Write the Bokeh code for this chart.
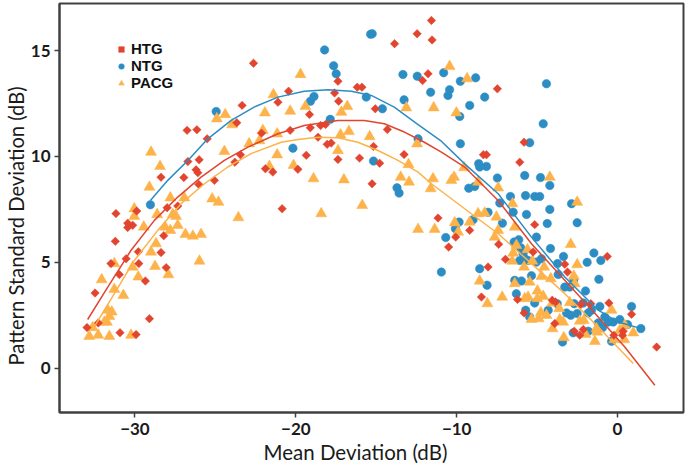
import math
from bokeh.plotting import figure
from bokeh.models import Range1d, FixedTicker, Legend, LegendItem, Title
from bokeh.embed import file_html
from bokeh.resources import INLINE

# ---------------- data ----------------
htg_md = [-22.63, -21.11, -23.34, -23.67, -26.76, -26.15, -25.51, -22.13, -23.44, -26.71,
          -26.01, -23.79, -21.89, -21.43, -26.20, -26.09, -28.38, -26.96, -26.03, -25.06,
          -28.00, -27.34, -29.89, -31.18, -30.45, -30.14, -30.45, -28.21, -31.22, -29.79,
          -28.38, -31.49, -30.55, -29.76, -28.06, -30.97, -29.35, -32.48, -29.10, -32.28,
          -32.98, -30.93, -29.93, -20.85, -11.57, -12.46, -11.53, -13.86, -11.78, -12.12,
          -17.38, -20.45, -16.18, -15.89, -17.59, -17.34, -15.06, -19.15, -19.10, -18.46,
          -18.15, -20.35, -14.31, -18.62, -18.05, -17.80, -15.17, -19.35, -17.38, -16.04,
          -13.27, -8.34, -8.15, -14.79, -19.87, -15.26, -11.16, -10.06, -9.19, -10.50,
          -8.05, -8.46, -7.47, -5.81, -6.08, -5.15, -7.39, -6.97, -5.25, -3.28,
          -0.64, -3.11, -6.22, -4.06, -3.86, -2.30, -1.66, -0.54, 0.87, -5.81,
          -3.90, -2.13, -2.69, -2.35, 0.35, -0.23, 0.31, 2.43]
htg_psd = [14.40, 12.56, 12.41, 11.59, 11.23, 11.26, 10.83, 11.10, 10.08, 9.76,
           9.84, 9.73, 9.42, 9.26, 9.37, 9.23, 9.02, 9.00, 8.68, 8.87,
           7.58, 7.66, 7.42, 7.30, 6.85, 6.75, 6.64, 6.26, 5.99, 5.50,
           5.46, 4.94, 5.17, 4.94, 4.75, 4.42, 4.12, 3.55, 2.34, 2.14,
           1.92, 1.68, 1.59, 7.53, 16.42, 15.79, 15.50, 15.32, 13.90, 13.58,
           13.55, 13.08, 13.27, 13.27, 13.00, 12.61, 12.25, 11.98, 11.35, 11.46,
           11.51, 11.23, 11.27, 10.91, 10.57, 10.63, 10.47, 10.05, 9.86, 9.92,
           10.09, 10.08, 10.08, 9.68, 9.39, 8.71, 7.09, 6.19, 6.51, 5.72,
           4.78, 3.36, 13.19, 10.67, 9.73, 6.78, 5.85, 5.14, 5.49, 4.91,
           5.28, 4.54, 3.25, 3.21, 3.13, 3.00, 3.05, 3.08, 2.55, 2.61,
           2.11, 1.83, 1.75, 1.56, 1.75, 1.56, 1.56, 1.00]

ntg_md = [-24.95, -29.04, -15.35, -15.25, -18.21, -17.65, -17.49, -13.34, -12.45, -10.81,
          -9.77, -8.82, -11.62, -10.44, -10.54, -8.26, -13.27, -18.87, -19.09, -15.62,
          -14.62, -9.19, -9.81, -17.86, -12.40, -20.18, -9.77, -15.17, -8.63, -8.57,
          -8.15, -13.71, -13.58, -9.25, -8.88, -9.85, -8.98, -8.05, -10.08, -10.68,
          -10.95, -8.57, -8.11, -4.42, -4.62, -5.46, -7.47, -5.77, -4.79, -4.21,
          -6.66, -5.72, -5.15, -4.84, -7.32, -2.86, -6.49, -5.66, -4.21, -7.16,
          -2.51, -4.37, -6.43, -6.14, -5.04, -6.02, -4.17, -5.87, -6.08, -5.77,
          -5.56, -5.04, -4.73, -3.73, -3.36, -1.89, -1.47, -1.04, -6.39, -5.97,
          -5.35, -3.69, -3.28, -2.97, -2.72, -1.99, -1.16, -6.29, -5.15, -3.75,
          -2.69, -2.13, -1.82, -1.62, -1.10, 0.87, -5.71, -5.46, -4.31, -3.17,
          -2.91, -2.51, -2.76, -1.82, -1.20, -0.93, -0.79, -0.58, -0.27, 0.14,
          0.62, 1.45, -0.37, -3.42]
ntg_psd = [12.12, 7.72, 15.77, 15.79, 15.03, 14.28, 13.90, 13.87, 13.79, 13.95,
           13.55, 13.71, 13.03, 13.15, 12.88, 12.80, 12.67, 12.83, 12.61, 12.80,
           12.25, 12.41, 11.89, 11.75, 10.83, 10.39, 10.60, 9.78, 9.66, 9.50,
           9.53, 8.52, 8.27, 8.50, 8.58, 6.90, 7.01, 7.36, 6.59, 6.17,
           4.54, 4.70, 3.92, 13.43, 11.54, 10.65, 8.98, 9.10, 9.00, 8.63,
           8.11, 8.15, 8.11, 8.11, 7.80, 7.77, 7.37, 7.26, 7.50, 6.85,
           6.87, 6.83, 5.96, 6.07, 6.19, 5.69, 5.65, 5.41, 5.09, 5.17,
           5.09, 5.01, 5.17, 4.94, 5.28, 5.00, 5.44, 5.09, 4.15, 4.12,
           4.37, 4.43, 3.83, 3.83, 4.18, 3.65, 4.20, 3.52, 3.08, 3.05,
           3.05, 3.08, 2.61, 2.74, 2.92, 2.92, 2.74, 2.42, 2.74, 2.61,
           2.50, 2.58, 1.67, 1.75, 2.14, 1.92, 2.42, 2.18, 2.18, 2.30,
           2.06, 1.87, 1.27, 1.24]

pacg_md = [-21.39, -24.39, -24.91, -23.96, -21.92, -22.05, -22.26, -22.90, -21.16, -24.44,
           -29.00, -28.44, -21.64, -29.10, -27.80, -26.93, -25.20, -24.81, -30.04, -30.04,
           -28.62, -27.65, -27.44, -23.57, -29.45, -28.13, -27.34, -27.80, -26.86, -26.40,
           -25.89, -28.69, -29.00, -25.99, -31.28, -30.14, -28.75, -27.92, -29.79, -32.07,
           -31.28, -30.72, -31.69, -31.44, -31.59, -31.90, -31.74, -32.63, -32.84, -32.28,
           -31.59, -30.24, -10.44, -19.71, -9.35, -16.80, -17.17, -19.40, -20.35, -13.13,
           -11.43, -10.02, -16.70, -17.22, -21.16, -15.41, -12.46, -17.38, -20.14, -12.99,
           -9.54, -18.90, -17.01, -13.48, -12.96, -11.47, -10.33, -10.16, -11.62, -8.67,
           -18.42, -15.87, -12.40, -11.37, -10.12, -9.19, -8.67, -8.26, -9.91, -8.57,
           -8.09, -7.42, -4.21, -6.53, -2.51, -7.53, -6.39, -7.42, -7.64, -6.29,
           -2.91, -6.49, -5.60, -6.55, -5.29, -5.81, -4.56, -2.51, -2.72, -6.39,
           -5.46, -4.73, -4.15, -2.66, -4.98, -5.56, -5.77, -7.17, -4.98, -4.62,
           -4.06, -3.63, -2.97, -0.37, -5.35, -4.90, -4.77, -4.42, -3.59, -3.38,
           -4.04, -2.35, -2.10, -1.31, -1.26, -1.99, 0.14, 0.45, 0.98, -0.21,
           0.42, -1.41, -3.34]
pacg_psd = [12.92, 11.98, 11.78, 11.50, 12.06, 11.23, 10.75, 10.60, 10.08, 10.24,
            10.20, 9.53, 9.53, 8.55, 8.05, 8.05, 8.00, 7.84, 7.53, 7.17,
            7.26, 7.26, 7.17, 7.11, 6.67, 6.67, 6.75, 6.51, 6.32, 6.24,
            6.32, 5.88, 5.49, 5.06, 4.94, 4.78, 4.81, 4.42, 4.31, 4.18,
            3.73, 3.44, 2.74, 2.66, 2.45, 2.18, 2.18, 1.92, 1.51, 1.56,
            1.51, 1.56, 14.25, 13.87, 13.67, 12.36, 12.09, 12.36, 12.14, 12.30,
            12.30, 12.06, 11.18, 11.02, 11.07, 10.94, 10.60, 10.28, 9.58, 9.62,
            9.47, 8.95, 8.90, 9.02, 8.79, 8.95, 8.87, 9.02, 8.48, 8.79,
            7.30, 7.69, 6.56, 6.56, 6.87, 6.90, 7.30, 7.33, 6.43, 4.12,
            3.05, 8.52, 9.02, 7.77, 7.84, 7.14, 6.67, 6.51, 6.19, 5.80,
            5.85, 5.44, 5.60, 5.06, 5.06, 4.78, 4.78, 4.89, 4.35, 4.00,
            4.07, 4.34, 4.23, 4.00, 3.65, 3.36, 3.29, 3.36, 3.29, 3.40,
            3.08, 2.82, 3.10, 2.74, 2.31, 2.34, 2.63, 2.50, 2.30, 2.18,
            1.87, 2.23, 2.26, 1.87, 1.71, 1.60, 1.79, 2.03, 1.67, 1.35,
            1.35, 1.27, 1.45]

# fitted curves
htg_fit_md = [-32.94, -31.69, -30.24, -28.79, -27.34, -25.89, -24.44, -22.98, -21.11, -19.48,
              -17.38, -15.74, -14.50, -13.25, -12.01, -10.95, -9.50, -7.42, -5.35, -3.28,
              -1.20, 0.45, 2.32]
htg_fit_psd = [2.30, 3.83, 5.57, 6.98, 8.08, 9.02, 9.81, 10.44, 11.07, 11.46,
               11.70, 11.70, 11.54, 11.15, 10.67, 10.20, 9.50, 7.92, 5.88, 4.15,
               2.42, 1.00, -0.80]
ntg_fit_md = [-29.04, -27.96, -26.71, -25.47, -24.02, -22.59, -21.11, -19.48, -18.00, -16.55,
              -15.31, -13.88, -12.40, -11.00, -9.50, -7.42, -5.35, -3.28, -1.20, 0.04, 1.49]
ntg_fit_psd = [7.92, 8.87, 9.81, 10.83, 11.70, 12.33, 12.80, 13.08, 13.15, 13.08,
               12.88, 12.33, 11.50, 10.75, 9.65, 8.24, 6.19, 4.31, 2.74, 2.18, 1.87]
pacg_fit_md = [-32.53, -31.28, -30.04, -28.58, -27.13, -25.68, -24.23, -22.78, -20.91, -19.87,
               -18.62, -17.38, -16.14, -14.89, -13.65, -12.40, -11.57, -9.50, -7.42, -5.35,
               -3.28, -1.20, 0.98]
pacg_fit_psd = [1.95, 3.52, 5.09, 6.51, 7.77, 8.71, 9.50, 10.13, 10.67, 10.80,
                10.91, 10.88, 10.67, 10.28, 9.81, 9.26, 8.71, 7.53, 6.35, 4.94,
                3.52, 1.95, 0.22]

x_ticks = [-30, -20, -10, 0]
y_ticks = [0, 5, 10, 15]
x_title = "Mean Deviation (dB)"
y_title = "Pattern Standard Deviation (dB)"

RED = "#E2452F"
BLUE = "#2B8DC4"
ORANGE = "#FDB24A"

p = figure(width=685, height=466, output_backend="svg", toolbar_location=None,
           x_range=Range1d(-34.69, 4.10), y_range=Range1d(-2.09, 17.22),
           min_border_left=59, min_border_right=2, min_border_top=3, min_border_bottom=54)
p.background_fill_color = "white"
p.border_fill_color = "white"
p.outline_line_color = "#404040"
p.outline_line_width = 2
p.xgrid.visible = False
p.ygrid.visible = False

for ax in (p.xaxis, p.yaxis):
    ax.axis_line_color = "#404040"
    ax.axis_line_width = 2
    ax.major_tick_line_color = "#404040"
    ax.major_tick_line_width = 1.5
    ax.major_tick_in = 0
    ax.major_tick_out = 5
    ax.minor_tick_line_color = None
    ax.major_label_text_font = "Lato"
    ax.major_label_text_font_style = "bold"
    ax.major_label_text_font_size = "17px"
    ax.major_label_text_color = "#1a1a1a"

p.xaxis.ticker = FixedTicker(ticks=x_ticks)
p.yaxis.ticker = FixedTicker(ticks=y_ticks)
p.xaxis.major_label_standoff = 5
p.yaxis.major_label_standoff = 4

xt = Title(text=x_title, align="left", offset=204, standoff=0,
           text_font="Lato", text_font_style="normal", text_font_size="20.5px",
           text_color="#1a1a1a")
yt = Title(text=y_title, align="left", offset=47, standoff=0,
           text_font="Lato", text_font_style="normal", text_font_size="20.2px",
           text_color="#1a1a1a")
p.add_layout(xt, "below")
p.add_layout(yt, "left")

r_ntg = p.scatter(ntg_md, ntg_psd, marker="circle", size=8.5, fill_color=BLUE,
                  line_color=BLUE, line_width=0.5)
r_pacg = p.scatter(pacg_md, pacg_psd, marker="triangle", size=11, fill_color=ORANGE,
                   line_color=ORANGE, line_width=0.5)
r_htg = p.scatter(htg_md, htg_psd, marker="square", angle=math.pi / 4, size=6,
                  fill_color=RED, line_color=RED, line_width=0.5)

p.line(ntg_fit_md, ntg_fit_psd, line_color=BLUE, line_width=1.5)
p.line(htg_fit_md, htg_fit_psd, line_color=RED, line_width=1.5)
p.line(pacg_fit_md, pacg_fit_psd, line_color=ORANGE, line_width=1.5)

legend = Legend(items=[LegendItem(label="HTG", renderers=[r_htg]),
                       LegendItem(label="NTG", renderers=[r_ntg]),
                       LegendItem(label="PACG", renderers=[r_pacg])],
                location=(55, 321))
legend.background_fill_alpha = 0
legend.border_line_color = None
legend.label_text_font = "Liberation Sans"
legend.label_text_font_style = "bold"
legend.label_text_font_size = "15px"
legend.label_text_line_height = 0.9
legend.label_text_color = "#111111"
legend.label_standoff = 3
legend.glyph_width = 14
legend.glyph_height = 14
legend.label_height = 14
legend.spacing = -2
legend.padding = 0
legend.margin = 0
p.add_layout(legend, "center")

open("out.html", "w").write(file_html(p, INLINE))
